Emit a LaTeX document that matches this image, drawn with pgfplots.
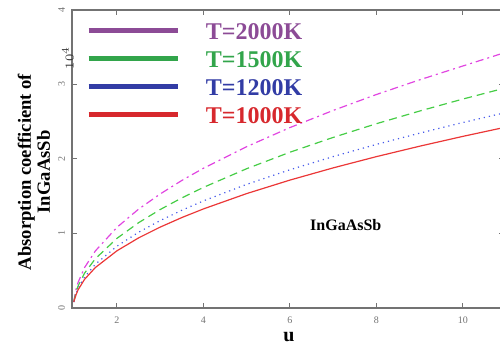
\documentclass[border=0pt]{standalone}
\usepackage{fontspec}
\setmainfont{Liberation Serif}
\usepackage{pgfplots}
\pgfplotsset{compat=1.18}
\definecolor{legpurple}{RGB}{140,75,150}
\definecolor{leggreen}{RGB}{50,165,75}
\definecolor{legblue}{RGB}{50,60,165}
\definecolor{legred}{RGB}{215,40,45}
\definecolor{cpurple}{RGB}{225,70,225}
\definecolor{cgreen}{RGB}{70,205,70}
\definecolor{cblue}{RGB}{70,90,235}
\definecolor{cred}{RGB}{235,55,55}
\definecolor{axgray}{RGB}{115,115,115}
\begin{document}
\begin{tikzpicture}
\begin{axis}[
  scale only axis,
  width=216pt, height=149pt,
  xmin=0.96, xmax=10.948,
  ymin=0, ymax=4,
  xtick={2,4,6,8,10},
  ytick={0,1,2,3,4},
  tick align=inside,
  major tick length=2.5pt,
  axis line style={axgray, line width=0.7pt},
  every tick/.style={axgray, line width=0.5pt},
  tick label style={font=\tiny, text=axgray},
  /pgf/number format/assume math mode=true,
  yticklabel style={rotate=90, anchor=south, xshift=0pt},
  x tick label style={yshift=-1pt},
  legend style={at={(rel axis cs:0.0327,0.96)}, anchor=north west, draw=none, fill=none,
    inner sep=0pt, row sep=5.6pt, font=\fontsize{12}{12}\selectfont\bfseries,
    nodes={inner sep=0pt, text height=8.4pt, text depth=0pt},
    /tikz/column 2/.style={column sep=0pt}},
  legend image code/.code={\draw[#1, solid, line width=2.2pt] (0pt,0.2pt) -- (44.5pt,0.2pt);},
  legend cell align=left,
  clip=true,
]
\addlegendimage{legpurple}
\addlegendentry{\hspace{13pt}\textcolor{legpurple}{T=2000K}}
\addlegendimage{leggreen}
\addlegendentry{\hspace{13pt}\textcolor{leggreen}{T=1500K}}
\addlegendimage{legblue}
\addlegendentry{\hspace{13pt}\textcolor{legblue}{T=1200K}}
\addlegendimage{legred}
\addlegendentry{\hspace{13pt}\textcolor{legred}{T=1000K}}

\addplot[cpurple, line width=0.6pt, dash pattern=on 4pt off 2pt on 1pt off 2pt, forget plot] coordinates {
(1,0.08) (1.05,0.243) (1.1,0.342) (1.25,0.542) (1.5,0.766) (2,1.083) (2.5,1.327) (3,1.531) (3.5,1.712) (4,1.876) (5,2.166) (6,2.422) (7,2.652) (8,2.866) (9,3.063) (10,3.249) (11,3.434)};
\addplot[cgreen, line width=0.6pt, dash pattern=on 4pt off 2.5pt, forget plot] coordinates {
(1,0.08) (1.05,0.209) (1.1,0.295) (1.25,0.468) (1.5,0.661) (2,0.935) (2.5,1.145) (3,1.322) (3.5,1.478) (4,1.619) (5,1.87) (6,2.091) (7,2.290) (8,2.474) (9,2.644) (10,2.805) (11,2.957)};
\addplot[cblue, line width=0.6pt, dotted, forget plot] coordinates {
(1,0.08) (1.05,0.186) (1.1,0.262) (1.25,0.415) (1.5,0.587) (2,0.83) (2.5,1.017) (3,1.174) (3.5,1.312) (4,1.438) (5,1.66) (6,1.856) (7,2.033) (8,2.196) (9,2.347) (10,2.49) (11,2.625)};
\addplot[cred, line width=0.6pt, solid, forget plot] coordinates {
(1,0.08) (1.05,0.172) (1.1,0.243) (1.25,0.384) (1.5,0.543) (2,0.768) (2.5,0.941) (3,1.086) (3.5,1.214) (4,1.330) (5,1.536) (6,1.717) (7,1.881) (8,2.032) (9,2.172) (10,2.304) (11,2.429)};

\node[font=\fontsize{8}{8}\selectfont\bfseries] at (axis cs:7.29,1.11) {InGaAsSb};
\end{axis}
\node[rotate=90, font=\fontsize{6}{6}\selectfont, text=black!80] at (-2pt,125pt) {$10^4$};
\node[rotate=90, align=center, font=\fontsize{9.3}{9.5}\selectfont\bfseries] at (-19pt,68pt) {Absorption coefficient of\\InGaAsSb};
\node[font=\fontsize{10}{10}\selectfont\bfseries] at (108.5pt,-14.5pt) {u};
\pgfresetboundingbox
\path[use as bounding box] (-36pt,-19.5pt) rectangle (214pt,154pt);
\end{tikzpicture}
\end{document}
